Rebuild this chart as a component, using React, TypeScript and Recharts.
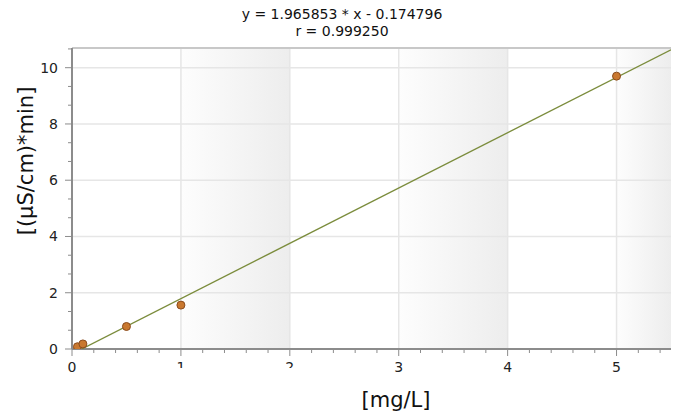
import { ScatterChart, Scatter, XAxis, YAxis, ReferenceArea, ReferenceLine } from 'recharts';

// calibration points: concentration vs peak area
const CONC = [0.05, 0.1, 0.5, 1, 5];
const AREA = [0.08, 0.18, 0.8, 1.56, 9.7];

// fit as printed above the chart
const SLOPE = 1.965853;
const INTERCEPT = -0.174796;
const R = 0.99925;

const X_MAX = 5.5;
const Y_MAX = 10.7;
const X_LABELS = [0, 1, 2, 3, 4, 5];
const Y_LABELS = [0, 2, 4, 6, 8, 10];
const X_MINOR_STEP = 0.2;
const Y_MINOR_STEP = 2 / 3;
const BANDS = [
  [1, 2],
  [3, 4],
  [5, 5.5],
];
// tick labels that the original shows cut off
const CUT_LABELS = [1, 2];

const FONT = '"DejaVu Sans", Verdana, sans-serif';
const AXIS = '#8c8c8c';
const GRID = '#e6e6e6';

const xTicks = Array.from({ length: Math.floor(X_MAX / X_MINOR_STEP + 1e-6) + 1 }, (_, i) => +(i * X_MINOR_STEP).toFixed(3));
const yTicks = Array.from({ length: Math.floor(Y_MAX / Y_MINOR_STEP + 1e-6) + 1 }, (_, i) => +(i * Y_MINOR_STEP).toFixed(4));

const points = CONC.map((x, i) => ({ x, y: AREA[i] }));
const x0 = -INTERCEPT / SLOPE;
const fitLine = [
  { x: x0, y: 0 },
  { x: X_MAX, y: SLOPE * X_MAX + INTERCEPT },
];

const isInt = (v: number) => Math.abs(v - Math.round(v)) < 1e-6;

function XTick(props: any) {
  const { x, y, payload } = props;
  const v = payload.value as number;
  const major = isInt(v) && X_LABELS.includes(Math.round(v));
  const cut = major && CUT_LABELS.includes(Math.round(v));
  return (
    <g>
      <line x1={x} x2={x} y1={y} y2={y + (major ? 7 : 4)} stroke={AXIS} strokeWidth={1} />
      {cut && (
        <clipPath id={`xclip${Math.round(v)}`}>
          <rect x={x - 10} y={y} width={20} height={19} />
        </clipPath>
      )}
      {major && (
        <text
          x={x}
          y={y + 23}
          textAnchor="middle"
          fontSize={14}
          fontFamily={FONT}
          fill="#222"
          clipPath={cut ? `url(#xclip${Math.round(v)})` : undefined}
        >
          {Math.round(v)}
        </text>
      )}
    </g>
  );
}

function YTick(props: any) {
  const { x, y, payload } = props;
  const v = payload.value as number;
  const major = isInt(v) && Y_LABELS.includes(Math.round(v));
  return (
    <g>
      <line x1={x} x2={x - (major ? 7 : 4)} y1={y} y2={y} stroke={AXIS} strokeWidth={1} />
      {major && (
        <text x={x - 14} y={y + 5} textAnchor="end" fontSize={14} fontFamily={FONT} fill="#222">
          {Math.round(v)}
        </text>
      )}
    </g>
  );
}

export default function App() {
  return (
    <div style={{ position: 'absolute', left: 0, top: 0, width: 680, height: 418, fontFamily: FONT, background: '#fff' }}>
      <div
        style={{
          position: 'absolute',
          top: 6,
          left: 0,
          width: 684,
          textAlign: 'center',
          fontSize: 14,
          lineHeight: '17px',
          color: '#111',
        }}
      >
        <div>{`y = ${SLOPE.toFixed(6)} * x - ${Math.abs(INTERCEPT).toFixed(6)}`}</div>
        <div>{`r = ${R.toFixed(6)}`}</div>
      </div>
      <ScatterChart width={680} height={418} margin={{ top: 48, right: 9, bottom: 0, left: 0 }}>
        <defs>
          <linearGradient id="band" x1="0" y1="0" x2="1" y2="0">
            <stop offset="0%" stopColor="#fdfdfd" />
            <stop offset="100%" stopColor="#ededed" />
          </linearGradient>
        </defs>
        <XAxis
          type="number"
          dataKey="x"
          domain={[0, X_MAX]}
          allowDataOverflow
          ticks={xTicks}
          interval={0}
          height={69}
          tickSize={0}
          tickMargin={0}
          tickLine={false}
          tick={<XTick />}
          axisLine={{ stroke: AXIS, strokeWidth: 2 }}
          label={{
            content: () => (
              <text x={396} y={407} textAnchor="middle" fontSize={21} fontFamily={FONT} fill="#111">
                [mg/L]
              </text>
            ),
          }}
        />
        <YAxis
          type="number"
          dataKey="y"
          domain={[0, Y_MAX]}
          allowDataOverflow
          ticks={yTicks}
          interval={0}
          width={72}
          tickSize={0}
          tickMargin={0}
          tickLine={false}
          tick={<YTick />}
          axisLine={{ stroke: AXIS, strokeWidth: 2 }}
          label={{
            content: () => (
              <text
                x={26}
                y={161}
                transform="rotate(-90 26 161)"
                textAnchor="middle"
                dominantBaseline="central"
                fontSize={21}
                fontFamily={FONT}
                fill="#111"
              >
                [(µS/cm)*min]
              </text>
            ),
          }}
        />
        {BANDS.map(([a, b]) => (
          <ReferenceArea key={a} x1={a} x2={b} y1={0} y2={Y_MAX} fill="url(#band)" fillOpacity={1} stroke="none" ifOverflow="hidden" />
        ))}
        {X_LABELS.filter((v) => v > 0).map((v) => (
          <ReferenceLine key={`gx${v}`} x={v} stroke={GRID} strokeWidth={1.5} />
        ))}
        {Y_LABELS.filter((v) => v > 0).map((v) => (
          <ReferenceLine key={`gy${v}`} y={v} stroke={GRID} strokeWidth={1.5} />
        ))}
        <ReferenceLine y={Y_MAX} stroke="#c8c8c8" strokeWidth={2} />
        <Scatter
          data={fitLine}
          line={{ stroke: '#7b8c3c', strokeWidth: 1.4 }}
          shape={() => <g />}
          isAnimationActive={false}
        />
        <Scatter
          data={points}
          shape={(p: any) => <circle cx={p.cx} cy={p.cy} r={4} fill="#c9782f" stroke="#8a4b1c" strokeWidth={1} />}
          isAnimationActive={false}
        />
      </ScatterChart>
    </div>
  );
}
